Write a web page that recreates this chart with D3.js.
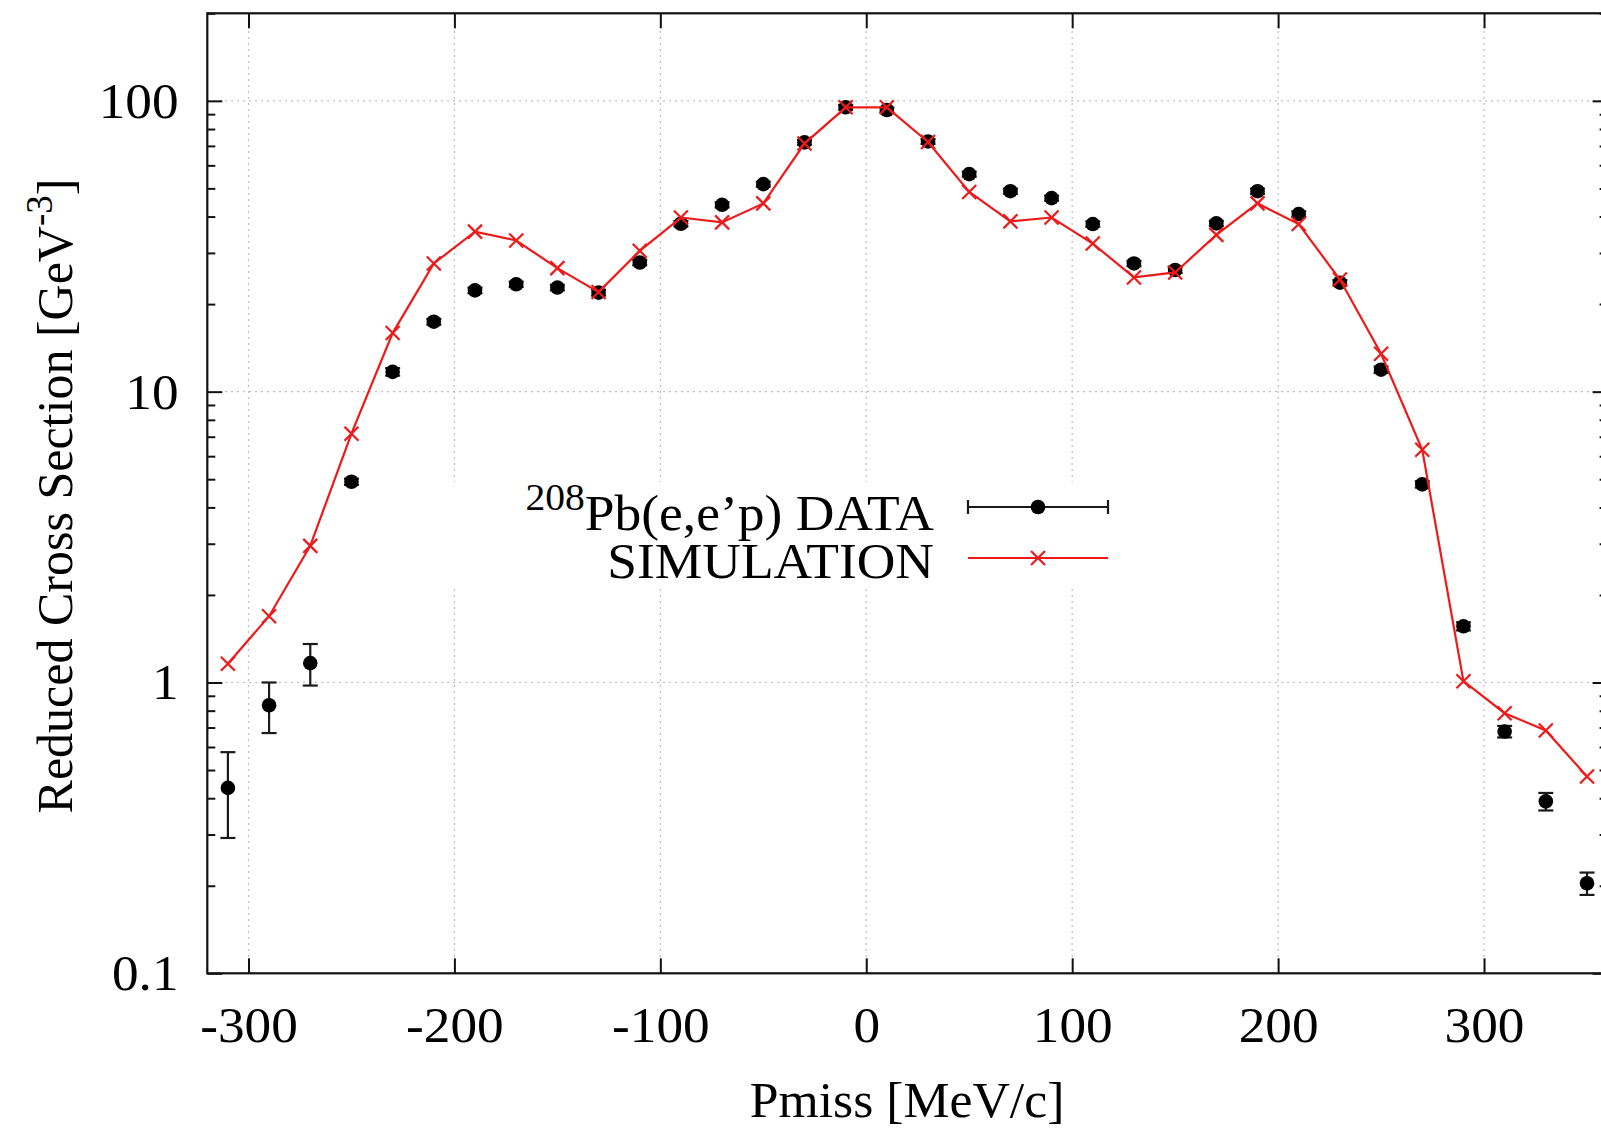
<!DOCTYPE html>
<html><head><meta charset="utf-8">
<script src="https://cdn.jsdelivr.net/npm/d3@7"></script>
<style>body{margin:0;background:#fff;overflow:hidden}</style>
</head><body>
<svg id="chart" width="1601" height="1130"></svg>
<script>
// ---- data ----
const pmiss = [-310,-290,-270,-250,-230,-210,-190,-170,-150,-130,-110,-90,-70,-50,-30,-10,
               10,30,50,70,90,110,130,150,170,190,210,230,250,270,290,310,330,350];
const dataValues = [0.434,0.835,1.166,4.90,11.7,17.4,22.3,23.4,22.8,21.9,27.8,37.8,43.9,51.7,72.0,95.0,
                    93.0,72.5,56.0,48.9,46.3,37.7,27.6,26.2,37.9,48.9,40.8,23.7,11.9,4.80,1.56,0.678,0.390,0.204];
const dataErrors = [0.142,0.165,0.19,0.12,0.35,0.4,0.5,0.5,0.5,0.5,0.6,0.8,0.9,1.0,1.4,1.8,
                    1.8,1.4,1.1,1.0,0.9,0.8,0.6,0.6,0.8,1.0,0.9,0.5,0.3,0.12,0.05,0.031,0.027,0.018];
const simValues = [1.16,1.69,2.95,7.17,15.9,27.6,35.5,33.1,26.6,22.0,30.5,39.7,38.2,44.4,71.3,95.0,
                   95.0,72.2,48.6,38.5,39.7,32.3,24.7,25.7,34.6,44.4,37.7,24.3,13.5,6.31,1.01,0.784,0.684,0.475];
const xTickValues = [-300,-200,-100,0,100,200,300];
const yTickValues = [0.1,1,10,100];
const xDomain = [-320,360];
const yDomain = [0.1,200];
const legendLabels = ["DATA","SIMULATION"];

// ---- layout ----
const L = 207.3, R = 1607.6, T = 13.3, B = 973.3;
const FONT = "'Liberation Serif','Times New Roman',Times,serif";
const RED = "#ee1a1a";
const STRETCH = 'scale(1.065,1)';

const svg = d3.select('#chart').style('font-family', FONT);
const x = d3.scaleLinear().domain(xDomain).range([L, R]);
const y = d3.scaleLog().domain(yDomain).range([B, T]);

// minor log ticks
const minorTicks = [];
for (const dec of [0.1,1,10,100]) for (let k=2;k<=9;k++){ const v=dec*k; if (v<=yDomain[1]) minorTicks.push(v); }

// ---- grid ----
const grid = svg.append('g').attr('stroke','#a8a8a8').attr('stroke-width',1.2).attr('stroke-dasharray','1.5,4.5');
grid.selectAll('.gx').data(xTickValues).join('line')
  .attr('x1',d=>x(d)).attr('x2',d=>x(d)).attr('y1',T).attr('y2',B);
grid.selectAll('.gy').data(yTickValues.filter(v=>v>yDomain[0])).join('line')
  .attr('x1',L).attr('x2',R).attr('y1',d=>y(d)).attr('y2',d=>y(d));

// opaque key box
svg.append('rect').attr('x',440).attr('y',482).attr('width',690).attr('height',104).attr('fill','#fff');

// ---- axes ----
function styleAxis(g){ g.select('.domain').remove(); g.selectAll('line').attr('stroke','#111').attr('stroke-width',2); }
svg.append('g').attr('transform',`translate(0,${B})`)
  .call(d3.axisBottom(x).tickValues(xTickValues).tickSize(-15).tickPadding(33).tickFormat(d=>String(d)))
  .call(styleAxis)
  .call(g=>g.selectAll('text').attr('font-size',50).attr('font-family',FONT).attr('fill','#000').attr('transform',STRETCH));
svg.append('g').attr('transform',`translate(0,${T})`)
  .call(d3.axisTop(x).tickValues(xTickValues).tickSize(-15).tickFormat(''))
  .call(styleAxis);
svg.append('g').attr('transform',`translate(${L},0)`)
  .call(d3.axisLeft(y).tickValues(yTickValues).tickSize(-15).tickPadding(27).tickFormat(d=>String(d)))
  .call(styleAxis)
  .call(g=>g.selectAll('text').attr('font-size',50).attr('font-family',FONT).attr('fill','#000').attr('dy','0.33em').attr('transform',STRETCH));
svg.append('g').attr('transform',`translate(${L},0)`)
  .call(d3.axisLeft(y).tickValues(minorTicks).tickSize(-8).tickFormat(''))
  .call(styleAxis);
svg.append('g').attr('transform',`translate(${R},0)`)
  .call(d3.axisRight(y).tickValues(yTickValues).tickSize(-15).tickFormat(''))
  .call(styleAxis);
svg.append('g').attr('transform',`translate(${R},0)`)
  .call(d3.axisRight(y).tickValues(minorTicks).tickSize(-8).tickFormat(''))
  .call(styleAxis);

// frame
svg.append('rect').attr('x',L).attr('y',T).attr('width',R-L).attr('height',B-T)
  .attr('fill','none').attr('stroke','#111').attr('stroke-width',2.2);

// ---- data with error bars ----
const pts = pmiss.map((p,i)=>({p, v:dataValues[i], e:dataErrors[i], s:simValues[i]}));
const eb = svg.append('g').attr('stroke','#1a1a1a').attr('stroke-width',2.2);
eb.selectAll('.ev').data(pts).join('line')
  .attr('x1',d=>x(d.p)).attr('x2',d=>x(d.p)).attr('y1',d=>y(d.v-d.e)).attr('y2',d=>y(d.v+d.e));
eb.selectAll('.et').data(pts).join('line')
  .attr('x1',d=>x(d.p)-7.5).attr('x2',d=>x(d.p)+7.5).attr('y1',d=>y(d.v+d.e)).attr('y2',d=>y(d.v+d.e));
eb.selectAll('.eb').data(pts).join('line')
  .attr('x1',d=>x(d.p)-7.5).attr('x2',d=>x(d.p)+7.5).attr('y1',d=>y(d.v-d.e)).attr('y2',d=>y(d.v-d.e));
svg.append('g').selectAll('circle').data(pts).join('circle')
  .attr('cx',d=>x(d.p)).attr('cy',d=>y(d.v)).attr('r',7.3).attr('fill','#000');

// ---- simulation ----
const line = d3.line().x(d=>x(d.p)).y(d=>y(d.s));
svg.append('path').datum(pts).attr('d',line).attr('fill','none').attr('stroke',RED).attr('stroke-width',2.2);
const cross = (cx,cy,s)=>`M${cx-s},${cy-s}L${cx+s},${cy+s}M${cx-s},${cy+s}L${cx+s},${cy-s}`;
svg.append('g').selectAll('path').data(pts).join('path')
  .attr('d',d=>cross(x(d.p),y(d.s),7)).attr('stroke',RED).attr('stroke-width',2.2).attr('fill','none');

// ---- legend ----
const lgText = svg.append('g').attr('transform','translate(934,0) scale(1.07,1)');
const t1 = lgText.append('text').attr('x',0).attr('y',530).attr('text-anchor','end').attr('font-size',50);
t1.append('tspan').attr('font-size',37).attr('dy',-20).text('208');
t1.append('tspan').attr('dy',20).text('Pb(e,e\u2019p) ' + legendLabels[0]);
lgText.append('text').attr('x',0).attr('y',578).attr('text-anchor','end').attr('font-size',50).text(legendLabels[1]);
const ly1 = 507, ly2 = 558, lx1 = 968, lx2 = 1108, lxm = 1038;
const lg = svg.append('g');
lg.append('line').attr('x1',lx1).attr('x2',lx2).attr('y1',ly1).attr('y2',ly1).attr('stroke','#1a1a1a').attr('stroke-width',2.2);
lg.append('line').attr('x1',lx1).attr('x2',lx1).attr('y1',ly1-7).attr('y2',ly1+7).attr('stroke','#1a1a1a').attr('stroke-width',2.2);
lg.append('line').attr('x1',lx2).attr('x2',lx2).attr('y1',ly1-7).attr('y2',ly1+7).attr('stroke','#1a1a1a').attr('stroke-width',2.2);
lg.append('circle').attr('cx',lxm).attr('cy',ly1).attr('r',7.3).attr('fill','#000');
lg.append('line').attr('x1',lx1).attr('x2',lx2).attr('y1',ly2).attr('y2',ly2).attr('stroke',RED).attr('stroke-width',2.2);
lg.append('path').attr('d',cross(lxm,ly2,7)).attr('stroke',RED).attr('stroke-width',2.2);

// ---- axis titles ----
svg.append('text').attr('transform','translate(907,1117) scale(1.035,1)').attr('text-anchor','middle').attr('font-size',50).text('Pmiss [MeV/c]');
const yl = svg.append('text').attr('transform','translate(72,496) rotate(-90)').attr('text-anchor','middle').attr('font-size',50);
yl.append('tspan').text('Reduced Cross Section [GeV');
yl.append('tspan').attr('font-size',37).attr('dy',-20).text('-3');
yl.append('tspan').attr('dy',20).text(']');
</script>
</body></html>
